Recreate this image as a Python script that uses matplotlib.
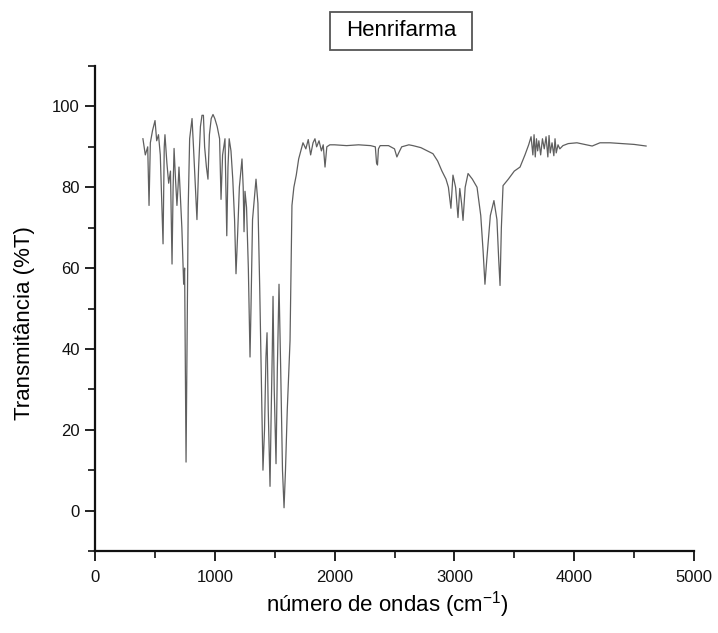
import matplotlib
matplotlib.use("Agg")
import matplotlib.pyplot as plt
from matplotlib.ticker import MultipleLocator
from matplotlib.patches import Rectangle

plt.rcParams['font.family'] = ['Liberation Sans', 'DejaVu Sans']

title = "Henrifarma"
x_label = "número de ondas (cm$^{\\mathregular{-1}}$)"
y_label = "Transmitância (%T)"

wavenumber = [
    400, 420, 440, 451, 462, 480, 501, 515, 530, 545, 568, 578, 584, 600, 615, 630,
    643, 652, 660, 672, 684, 693, 701, 712, 725, 740, 748, 760, 768, 778, 790, 810,
    822, 838, 851, 865, 880, 893, 905, 915, 930, 943, 955, 970, 985, 1000, 1020, 1040,
    1052, 1065, 1085, 1100, 1110, 1120, 1135, 1150, 1165, 1177, 1190, 1205, 1227, 1237,
    1244, 1252, 1265, 1280, 1294, 1302, 1315, 1344, 1360, 1375, 1390, 1402, 1415, 1427,
    1436, 1446, 1461, 1470, 1480, 1486, 1496, 1511, 1522, 1536, 1550, 1565, 1578, 1590,
    1605, 1628, 1644, 1660, 1680, 1700, 1736, 1760, 1780, 1800, 1820, 1836, 1850, 1870,
    1890, 1905, 1920, 1935, 1960, 2000, 2100, 2200, 2300, 2340, 2350, 2358, 2366, 2380,
    2450, 2500, 2520, 2535, 2560, 2620, 2654, 2720, 2821, 2860, 2896, 2930, 2950, 2971,
    2988, 3010, 3030, 3045, 3060, 3072, 3090, 3114, 3150, 3189, 3220, 3240, 3255, 3270,
    3300, 3330, 3355, 3370, 3381, 3392, 3406, 3450, 3500, 3548, 3589, 3620, 3640, 3655,
    3665, 3675, 3685, 3695, 3705, 3720, 3735, 3750, 3765, 3780, 3790, 3800, 3815, 3830,
    3840, 3850, 3865, 3880, 3906, 3950, 4023, 4100, 4150, 4215, 4300, 4400, 4500, 4600,
]
transmittance = [
    92, 88, 90, 75.5, 91, 94, 96.5, 91.5, 93, 88, 66, 90, 93, 86, 81, 84,
    61, 80, 89.6, 82, 75.5, 80, 85, 78, 70, 56, 60, 12, 40, 75, 92, 97,
    90, 80, 72, 85, 95, 97.8, 97.8, 90, 85, 82, 93, 97, 98, 97, 95, 92,
    77, 88, 92, 68, 85, 92, 89, 82, 72, 58.6, 68, 80, 87, 80,
    69, 79, 75, 60, 38, 50, 72, 82, 76, 55, 30, 10, 20, 38,
    44, 25, 6, 23, 40, 53, 30, 11.6, 35, 56, 35, 10, 0.7, 10,
    25, 42, 75.5, 80, 83, 87, 91, 89.5, 91.8, 88, 91, 92, 90, 91.5,
    89, 90.5, 85, 90, 90.5, 90.5, 90.3, 90.5, 90.3, 90, 86, 85.5, 89.5, 90.3,
    90.3, 89.5, 87.5, 88.5, 90, 90.5, 90.3, 89.8, 88.3, 86.5, 84, 82, 80, 74.8,
    83, 80, 72.5, 79.7, 76, 71.8, 80, 83.4, 82, 80, 73, 64, 56, 62,
    73, 76.7, 72, 62, 55.7, 70, 80.4, 82, 84, 85, 88, 90.5, 92.5, 88,
    93, 87.5, 92, 89, 91.5, 88, 92, 89.5, 92.5, 87.5, 92.8, 88.5, 91, 87.8,
    92, 88.5, 90.5, 89.5, 90.3, 90.8, 91, 90.5, 90.2, 91, 91, 90.8, 90.6, 90.2,
]

x_ticks = [0, 1000, 2000, 3000, 4000, 5000]
y_ticks = [0, 20, 40, 60, 80, 100]

W, H = 718, 633
fig = plt.figure(figsize=(W / 100, H / 100), dpi=100)
ax = fig.add_axes([95 / W, 1 - 551 / H, 599 / W, 485 / H])

ax.plot(wavenumber, transmittance, color='#5f5f5f', lw=0.9)

ax.set_xlim(0, 5000)
ax.set_ylim(-10, 110)
ax.set_xticks(x_ticks)
ax.set_yticks(y_ticks)
ax.xaxis.set_minor_locator(MultipleLocator(500))
ax.yaxis.set_minor_locator(MultipleLocator(10))

for s in ['top', 'right']:
    ax.spines[s].set_visible(False)
for s in ['left', 'bottom']:
    ax.spines[s].set_linewidth(1.6)
    ax.spines[s].set_color('#111111')

ax.tick_params(which='major', direction='out', length=7, width=1.3, labelsize=12,
               colors='#111111')
ax.tick_params(axis='x', which='major', pad=7)
ax.tick_params(axis='y', which='major', pad=4)
ax.tick_params(which='minor', direction='out', length=5, width=1.2, colors='#111111')

ax.set_xlabel(x_label, fontsize=16)
ax.xaxis.label.set_va('center')
ax.xaxis.set_label_coords((387 - 95) / 599, (551 - 605) / 485)
ax.set_ylabel(y_label, fontsize=16)
ax.yaxis.label.set_va('center')
ax.yaxis.set_label_coords((25 - 95) / 599, (551 - 323) / 485)

fig.patches.append(Rectangle((330 / W, 1 - 50 / H), 142 / W, 38 / H,
                             transform=fig.transFigure, facecolor='white',
                             edgecolor='#555555', lw=1.3))
fig.text(401 / W, 1 - 31 / H, title, fontsize=16, ha='center', va='center')

fig.savefig('out.png', dpi=100)
